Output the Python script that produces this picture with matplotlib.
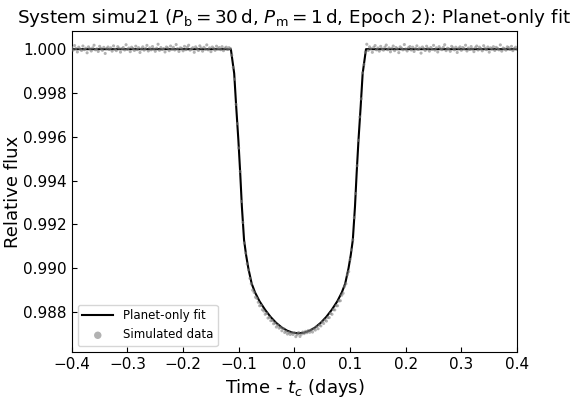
import matplotlib.pyplot as plt
import numpy as np

# Planet-only model
t_fit = [-0.4000, -0.1142, -0.1082, -0.1046, -0.1007, -0.0974, -0.0944, -0.0905,
         -0.0868, -0.0828, -0.0768, -0.0708, -0.0628, -0.0528, -0.0428, -0.0328,
         -0.0228, -0.0128, -0.0028, 0.0072, 0.0172, 0.0272, 0.0372, 0.0472,
         0.0572, 0.0672, 0.0772, 0.0852, 0.0912, 0.0972, 0.1012, 0.1049,
         0.1088, 0.1118, 0.1151, 0.1190, 0.1226, 0.1286, 0.4000]
flux_fit = [1.00000, 1.00000, 0.99889, 0.99737, 0.99585, 0.99434, 0.99281, 0.99129,
            0.99060, 0.99000, 0.98930, 0.98890, 0.98850, 0.98811, 0.98778, 0.98751,
            0.98730, 0.98715, 0.98706, 0.98703, 0.98706, 0.98715, 0.98730, 0.98751,
            0.98778, 0.98811, 0.98850, 0.98890, 0.98930, 0.99000, 0.99060, 0.99129,
            0.99281, 0.99434, 0.99585, 0.99737, 0.99889, 1.00000, 1.00000]

# simulated data before transit (ppm offset from 1)
t_pre = [-0.4000, -0.3975, -0.3950, -0.3925, -0.3900, -0.3875, -0.3850, -0.3825, -0.3800, -0.3775,
         -0.3750, -0.3725, -0.3700, -0.3675, -0.3650, -0.3625, -0.3600, -0.3575, -0.3550, -0.3525,
         -0.3500, -0.3475, -0.3450, -0.3425, -0.3400, -0.3375, -0.3350, -0.3325, -0.3300, -0.3275,
         -0.3250, -0.3225, -0.3200, -0.3175, -0.3150, -0.3125, -0.3100, -0.3075, -0.3050, -0.3025,
         -0.3000, -0.2975, -0.2950, -0.2925, -0.2900, -0.2875, -0.2850, -0.2825, -0.2800, -0.2775,
         -0.2750, -0.2725, -0.2700, -0.2675, -0.2650, -0.2625, -0.2600, -0.2575, -0.2550, -0.2525,
         -0.2500, -0.2475, -0.2450, -0.2425, -0.2400, -0.2375, -0.2350, -0.2325, -0.2300, -0.2275,
         -0.2250, -0.2225, -0.2200, -0.2175, -0.2150, -0.2125, -0.2100, -0.2075, -0.2050, -0.2025,
         -0.2000, -0.1975, -0.1950, -0.1925, -0.1900, -0.1875, -0.1850, -0.1825, -0.1800, -0.1775,
         -0.1750, -0.1725, -0.1700, -0.1675, -0.1650, -0.1625, -0.1600, -0.1575, -0.1550, -0.1525,
         -0.1500, -0.1475, -0.1450, -0.1425, -0.1400, -0.1375, -0.1350, -0.1325, -0.1300, -0.1275,
         -0.1250, -0.1225, -0.1200, -0.1175, -0.1150]
ppm_pre = [68, -45, 165, 30, -128, 90, 8, -60, 143, -23,
           45, -165, 105, 23, -83, 60, 180, -30, 15, -105,
           128, 38, -53, 83, -195, 30, 98, -15, 60, -90,
           150, 0, -68, 113, 45, -135, 23, 75, -38, 203,
           -8, 53, -113, 90, 30, -60, 135, -23, 68, -150,
           15, 105, -45, 38, 173, -83, 60, -30, 120, 8,
           -98, 45, 225, -53, 75, -15, 30, -128, 98, 53,
           -68, 143, 0, 83, -38, 210, 23, -105, 60, 38,
           -75, 128, -23, 90, 180, -45, 15, 68, -143, 105,
           30, -60, 150, 53, -90, 83, 8, 195, -30, 60,
           -113, 98, 38, -53, 135, 15, 75, -23, 113, -68,
           45, 90, -15, 68, 30]

# simulated data in transit
t_in = [-0.1125, -0.1100, -0.1075, -0.1050, -0.1025, -0.1000, -0.0975, -0.0950, -0.0925, -0.0900,
        -0.0875, -0.0850, -0.0825, -0.0800, -0.0775, -0.0750, -0.0725, -0.0700, -0.0675, -0.0650,
        -0.0625, -0.0600, -0.0575, -0.0550, -0.0525, -0.0500, -0.0475, -0.0450, -0.0425, -0.0400,
        -0.0375, -0.0350, -0.0325, -0.0300, -0.0275, -0.0250, -0.0225, -0.0200, -0.0175, -0.0150,
        -0.0125, -0.0100, -0.0075, -0.0050, -0.0025, 0.0000, 0.0025, 0.0050, 0.0075, 0.0100,
        0.0125, 0.0150, 0.0175, 0.0200, 0.0225, 0.0250, 0.0275, 0.0300, 0.0325, 0.0350,
        0.0375, 0.0400, 0.0425, 0.0450, 0.0475, 0.0500, 0.0525, 0.0550, 0.0575, 0.0600,
        0.0625, 0.0650, 0.0675, 0.0700, 0.0725, 0.0750, 0.0775, 0.0800, 0.0825, 0.0850,
        0.0875, 0.0900, 0.0925, 0.0950, 0.0975, 0.1000, 0.1025, 0.1050, 0.1075, 0.1100,
        0.1125, 0.1150, 0.1175, 0.1200, 0.1225, 0.1250, 0.1275]
flux_in = [0.99972, 0.99917, 0.99863, 0.99748, 0.99660, 0.99549, 0.99442, 0.99305, 0.99209, 0.99115,
           0.99069, 0.99020, 0.98992, 0.98954, 0.98929, 0.98900, 0.98890, 0.98868, 0.98863, 0.98845,
           0.98829, 0.98831, 0.98811, 0.98805, 0.98790, 0.98794, 0.98773, 0.98776, 0.98761, 0.98762,
           0.98747, 0.98750, 0.98732, 0.98740, 0.98727, 0.98730, 0.98715, 0.98725, 0.98707, 0.98712,
           0.98700, 0.98707, 0.98698, 0.98705, 0.98698, 0.98706, 0.98688, 0.98697, 0.98707, 0.98689,
           0.98699, 0.98709, 0.98702, 0.98712, 0.98706, 0.98716, 0.98708, 0.98718, 0.98709, 0.98724,
           0.98718, 0.98733, 0.98724, 0.98741, 0.98737, 0.98755, 0.98748, 0.98764, 0.98759, 0.98775,
           0.98775, 0.98794, 0.98790, 0.98811, 0.98810, 0.98829, 0.98829, 0.98851, 0.98852, 0.98877,
           0.98886, 0.98917, 0.98929, 0.98970, 0.98985, 0.99040, 0.99084, 0.99130, 0.99231, 0.99341,
           0.99468, 0.99584, 0.99691, 0.99773, 0.99892, 0.99930, 0.99986]

# simulated data after transit (ppm offset from 1)
t_post = [0.1300, 0.1325, 0.1350, 0.1375, 0.1400, 0.1425, 0.1450, 0.1475, 0.1500, 0.1525,
          0.1550, 0.1575, 0.1600, 0.1625, 0.1650, 0.1675, 0.1700, 0.1725, 0.1750, 0.1775,
          0.1800, 0.1825, 0.1850, 0.1875, 0.1900, 0.1925, 0.1950, 0.1975, 0.2000, 0.2025,
          0.2050, 0.2075, 0.2100, 0.2125, 0.2150, 0.2175, 0.2200, 0.2225, 0.2250, 0.2275,
          0.2300, 0.2325, 0.2350, 0.2375, 0.2400, 0.2425, 0.2450, 0.2475, 0.2500, 0.2525,
          0.2550, 0.2575, 0.2600, 0.2625, 0.2650, 0.2675, 0.2700, 0.2725, 0.2750, 0.2775,
          0.2800, 0.2825, 0.2850, 0.2875, 0.2900, 0.2925, 0.2950, 0.2975, 0.3000, 0.3025,
          0.3050, 0.3075, 0.3100, 0.3125, 0.3150, 0.3175, 0.3200, 0.3225, 0.3250, 0.3275,
          0.3300, 0.3325, 0.3350, 0.3375, 0.3400, 0.3425, 0.3450, 0.3475, 0.3500, 0.3525,
          0.3550, 0.3575, 0.3600, 0.3625, 0.3650, 0.3675, 0.3700, 0.3725, 0.3750, 0.3775,
          0.3800, 0.3825, 0.3850, 0.3875, 0.3900, 0.3925, 0.3950, 0.3975, 0.4000]
ppm_post = [225, -60, 105, 30, -143, 83, 165, -30, 53, -90,
            128, 15, -45, 90, 188, -23, 60, -120, 38, 143,
            -68, 75, 23, -158, 105, 45, -30, 210, 8, -83,
            68, 120, -38, 90, -105, 30, 150, -15, 53, -180,
            98, 23, -60, 135, 38, -90, 75, 0, 173, -45,
            60, -128, 113, 30, -23, 83, 203, -68, 45, 15,
            -98, 128, 60, -30, 90, -150, 38, 105, -53, 75,
            23, 180, -83, 53, -15, 120, 8, -113, 68, 143,
            -38, 90, 30, -75, 158, 45, -23, 98, -135, 60,
            15, 113, -60, 83, 38, -30, 195, -90, 53, 23,
            -45, 105, 68, -8, 128, -68, 30, 90, 0]

t_data = np.concatenate([t_pre, t_in, t_post])
flux_data = np.concatenate([1 + np.array(ppm_pre) * 1e-6, flux_in,
                            1 + np.array(ppm_post) * 1e-6])

fig = plt.figure(figsize=(5.79, 4.0), dpi=100)
ax = fig.add_axes([0.124, 0.12, 0.769, 0.802])

ax.plot(t_fit, flux_fit, color='black', lw=1.5, label='Planet-only fit', zorder=2)
ax.scatter(t_data, flux_data, s=5, color='gray', alpha=0.6, edgecolors='none',
           label='Simulated data', zorder=3)

ax.set_xlim(-0.4, 0.4)
ax.set_ylim(0.98618, 1.00082)
ax.set_xticks(np.arange(-0.4, 0.41, 0.1))
ax.set_yticks([0.988, 0.990, 0.992, 0.994, 0.996, 0.998, 1.000])
ax.yaxis.set_major_formatter(plt.FormatStrFormatter('%.3f'))
ax.tick_params(direction='in', labelsize=11)

ax.set_xlabel(r'Time - $t_c$ (days)', fontsize=13)
ax.set_ylabel('Relative flux', fontsize=13, labelpad=1)
ax.set_title(r'System simu21 ($P_{\rm b} = 30\,{\rm d}$, $P_{\rm m} = 1\,{\rm d}$, Epoch 2): Planet-only fit',
             fontsize=13.2)

ax.legend(loc='lower left', fontsize=8.5, markerscale=2.4, handlelength=2.6)

fig.savefig('out.png', dpi=100)
